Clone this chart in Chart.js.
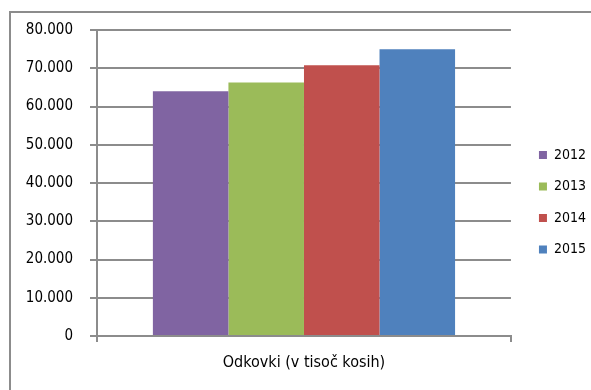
<!DOCTYPE html>
<html>
<head>
<meta charset="utf-8">
<script src="https://cdn.jsdelivr.net/npm/chart.js@4"></script>
<style>
  html, body { margin: 0; padding: 0; background: #fff; overflow: hidden; }
  #wrap { position: relative; width: 591px; height: 390px; }
  #frame {
    position: absolute; left: 9px; top: 11px; width: 600px; height: 400px;
    border: 2px solid #8c8c8c; box-sizing: border-box; pointer-events: none;
  }
  canvas { position: absolute; left: 0; top: 0; }
</style>
</head>
<body>
<div id="wrap">
  <canvas id="forgingsChart" width="591" height="390"></canvas>
  <div id="frame"></div>
</div>
<script>
// Forgings produced per year, in thousands of pieces
const categories = ['Odkovki (v tisoč kosih)'];
const years = ['2012', '2013', '2014', '2015'];
const values2012 = [64000];
const values2013 = [66300];
const values2014 = [70800];
const values2015 = [75000];
const yTicks = [0, 10000, 20000, 30000, 40000, 50000, 60000, 70000, 80000];

const colors = ['#8064A2', '#9BBB59', '#C0504D', '#4F81BD'];
const seriesValues = [values2012, values2013, values2014, values2015];
const gridColor = '#8c8c8c';
const fontFamily = '"DejaVu Sans Condensed", "DejaVu Sans", sans-serif';

// Thousands separated with a dot
const formatNumber = (v) => String(v).replace(/\B(?=(\d{3})+(?!\d))/g, '.');

// Leave a little room between the plot and the legend
const legendShift = {
  id: 'legendShift',
  afterLayout(chart) {
    chart.legend.left += 10.5;
    chart.legend.right += 10.5;
  },
};

const ctx = document.getElementById('forgingsChart').getContext('2d');
new Chart(ctx, {
  type: 'bar',
  data: {
    labels: categories,
    datasets: years.map((year, i) => ({
      label: year,
      data: seriesValues[i],
      backgroundColor: colors[i],
      borderWidth: 0,
      barPercentage: 1,
      categoryPercentage: 0.73,
    })),
  },
  options: {
    responsive: false,
    animation: false,
    layout: { padding: { top: 30, right: 5.5, bottom: 15.5, left: 0 } },
    plugins: {
      tooltip: { enabled: false },
      legend: {
        position: 'right',
        labels: {
          boxWidth: 8,
          boxHeight: 8,
          padding: 17.5,
          color: '#000',
          font: { family: fontFamily, size: 14 },
        },
      },
    },
    scales: {
      x: {
        offset: true,
        grid: {
          offset: true,
          drawOnChartArea: false,
          color: gridColor,
          lineWidth: 2,
          tickLength: 6,
        },
        border: { display: true, color: gridColor, width: 2 },
        ticks: {
          color: '#000',
          padding: 11,
          font: { family: fontFamily, size: 16 },
        },
        afterFit(scale) {
          scale.height = 38.5;
        },
      },
      y: {
        min: 0,
        max: 80000,
        afterBuildTicks(scale) {
          scale.ticks = yTicks.map((v) => ({ value: v }));
        },
        grid: {
          color: gridColor,
          lineWidth: 2,
          tickLength: 7,
        },
        border: { display: true, color: gridColor, width: 2 },
        ticks: {
          color: '#000',
          padding: 17,
          font: { family: fontFamily, size: 15 },
          callback: (value) => formatNumber(value),
        },
        afterFit(scale) {
          scale.width = 97;
        },
      },
    },
  },
  plugins: [legendShift],
});
</script>
</body>
</html>
